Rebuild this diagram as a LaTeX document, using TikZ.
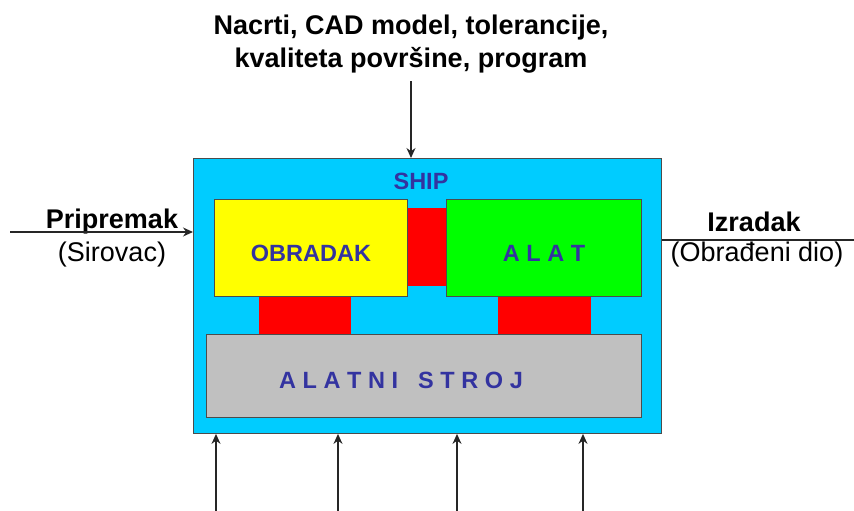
\documentclass[tikz,border=0pt]{standalone}
\usepackage{fontspec}
\setmainfont{Liberation Sans}
\usetikzlibrary{positioning, arrows.meta}

\definecolor{shipblue}{HTML}{00CCFF}
\definecolor{partyellow}{HTML}{FFFF00}
\definecolor{toolgreen}{HTML}{00FF00}
\definecolor{linkred}{HTML}{FF0000}
\definecolor{machgray}{HTML}{C0C0C0}
\definecolor{labelblue}{HTML}{3333A0}
\newcommand{\gp}{\kern6.6pt}

\begin{document}
\begin{tikzpicture}[x=1pt, y=-1pt, inner sep=0pt,
	box/.style={draw=black!70, line width=0.9pt, anchor=north west},
	link/.style={fill=linkred, anchor=north west},
	inlabel/.style={text=labelblue, font=\bfseries\fontsize{23.5}{27}\selectfont},
	outbold/.style={font=\bfseries\fontsize{27}{33}\selectfont},
	outthin/.style={font=\fontsize{27}{33}\selectfont},
	flow/.style={line width=1.3pt, black!85, -{Stealth[length=10pt, width=9pt]}}]
	\useasboundingbox (0,0) rectangle (854,511);
	% the whole system
	\node (ship) [box, fill=shipblue, minimum width=468pt, minimum height=275pt] at (193,158) {};
	\node (shiplbl) [inlabel] at (421,181) {SHIP};
	% red joints (drawn before the boxes they connect)
	\node (jmid) [link, minimum width=40pt, minimum height=78pt] at (406,208) {};
	\node (jleft) [link, minimum width=92pt, minimum height=40pt] at (259,295) {};
	\node (jright) [link, minimum width=93pt, minimum height=40pt] at (498,295) {};
	% workpiece, tool, machine
	\node (part) [box, fill=partyellow, minimum width=193pt, minimum height=97pt] at (214,199) {};
	\node (partlbl) [inlabel] at (311,253) {OBRADAK};
	\node (tool) [box, fill=toolgreen, minimum width=195pt, minimum height=97pt] at (446,199) {};
	\node (toollbl) [inlabel] at (544,253) {A L A T};
	\node (mach) [box, fill=machgray, minimum width=435pt, minimum height=83pt] at (206,334) {};
	\node (machlbl) [inlabel] at (401,380) {A\gp L\gp A\gp T\gp N\gp I\kern20pt S\gp T\gp R\gp O\gp J};
	% inputs and outputs
	\node (info) [outbold, align=center] at (411,44) {Nacrti, CAD model, tolerancije,\\kvaliteta površine, program};
	\draw[flow] ([yshift=-8pt]info.south) -- (info.south |- ship.north);
	\coordinate (inflow) at (10,232);
	\node (inname) [outbold] at (112,222) {Pripremak};
	\node (insub) [outthin] at (112,255) {(Sirovac)};
	\draw[flow] (inflow) -- (inflow -| ship.west);
	\coordinate (outflow) at (854,240);
	\node (outname) [outbold] at (754,222) {Izradak};
	\node (outsub) [outthin] at (757,255) {(Obrađeni dio)};
	\draw[line width=1.3pt, black!85] (outflow -| ship.east) -- (outflow);
	% supply arrows from below
	\foreach \px [count=\i] in {216,338,457,583} {
		\coordinate (sup\i) at (\px,511);
		\draw[flow] (sup\i) -- (sup\i |- ship.south);
	}
\end{tikzpicture}
\end{document}
